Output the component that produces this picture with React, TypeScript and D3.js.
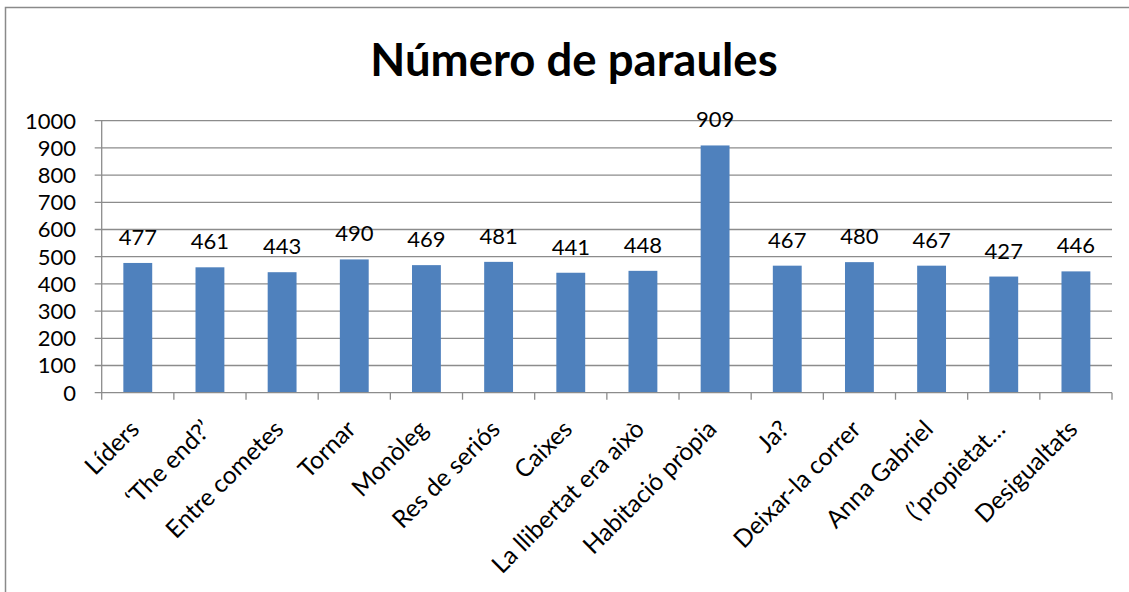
import React, { useRef, useEffect } from 'react';
import * as d3 from 'd3';

const categories = [
  'Líders', '‘The end?’', 'Entre cometes', 'Tornar', 'Monòleg', 'Res de seriós',
  'Caixes', 'La llibertat era això', 'Habitació pròpia', 'Ja?', 'Deixar-la correr',
  'Anna Gabriel', '(’propietat…', 'Desigualtats'
];
const values = [477, 461, 443, 490, 469, 481, 441, 448, 909, 467, 480, 467, 427, 446];
const yTicks = [0, 100, 200, 300, 400, 500, 600, 700, 800, 900, 1000];

const font = 'Lato, "Open Sans", sans-serif';

const App = () => {
  const ref = useRef<SVGSVGElement>(null);

  useEffect(() => {
    const svg = d3.select(ref.current);
    svg.selectAll('*').remove();

    const left = 101.7, right = 1112, top = 120.7, bottom = 392.7;
    const x = d3.scaleBand().domain(categories).range([left, right]).paddingInner(0.6).paddingOuter(0.3);
    const band = d3.scaleBand().domain(categories).range([left, right]);
    const y = d3.scaleLinear().domain([0, 1000]).range([bottom, top]);

    // chart border
    svg.append('rect')
      .attr('x', 5.5).attr('y', 7.5).attr('width', 1300).attr('height', 800)
      .attr('fill', 'white').attr('stroke', '#8a8a8a').attr('stroke-width', 1.5);

    svg.append('text')
      .attr('x', 574).attr('y', 76)
      .attr('text-anchor', 'middle')
      .style('font-family', font).style('font-weight', 'bold').style('font-size', '45.5px')
      .text('Número de paraules');

    // gridlines
    svg.append('g').selectAll('line')
      .data(yTicks.filter(d => d > 0))
      .enter().append('line')
      .attr('x1', left - 7).attr('x2', right)
      .attr('y1', d => y(d)).attr('y2', d => y(d))
      .attr('stroke', '#8c8c8c').attr('stroke-width', 1.3);

    svg.append('g').selectAll('text')
      .data(yTicks)
      .enter().append('text')
      .attr('x', 76).attr('y', d => y(d))
      .attr('dy', '0.36em')
      .attr('text-anchor', 'end')
      .style('font-family', font).style('font-size', '22px')
      .text(d => d);

    // bars
    svg.append('g').selectAll('rect')
      .data(values)
      .enter().append('rect')
      .attr('x', (d, i) => x(categories[i]))
      .attr('width', x.bandwidth())
      .attr('y', d => y(d))
      .attr('height', d => bottom - y(d))
      .attr('fill', '#4f81bd');

    svg.append('g').selectAll('text')
      .data(values)
      .enter().append('text')
      .attr('x', (d, i) => x(categories[i]) + x.bandwidth() / 2)
      .attr('y', d => y(d) - 18)
      .attr('text-anchor', 'middle')
      .style('font-family', font).style('font-size', '22px')
      .text(d => d);

    // axes lines
    svg.append('line')
      .attr('x1', left).attr('x2', left).attr('y1', top).attr('y2', bottom)
      .attr('stroke', '#8c8c8c').attr('stroke-width', 1.3);
    svg.append('line')
      .attr('x1', left - 7).attr('x2', right).attr('y1', bottom).attr('y2', bottom)
      .attr('stroke', '#8c8c8c').attr('stroke-width', 1.3);

    const edges = categories.map(c => band(c)).concat([right]);
    svg.append('g').selectAll('line')
      .data(edges)
      .enter().append('line')
      .attr('x1', d => d).attr('x2', d => d)
      .attr('y1', bottom).attr('y2', bottom + 7)
      .attr('stroke', '#8c8c8c').attr('stroke-width', 1.3);

    svg.append('g').selectAll('text')
      .data(categories)
      .enter().append('text')
      .attr('transform', d => `translate(${band(d) + band.bandwidth() / 2 + 3},${bottom + 38}) rotate(-45)`)
      .attr('text-anchor', 'end')
      .style('font-family', font).style('font-size', '24.5px')
      .text(d => d);
  }, []);

  return (
    <svg ref={ref} width={1129} height={592} style={{ position: 'absolute', left: 0, top: 0 }}></svg>
  );
};

export default App;
